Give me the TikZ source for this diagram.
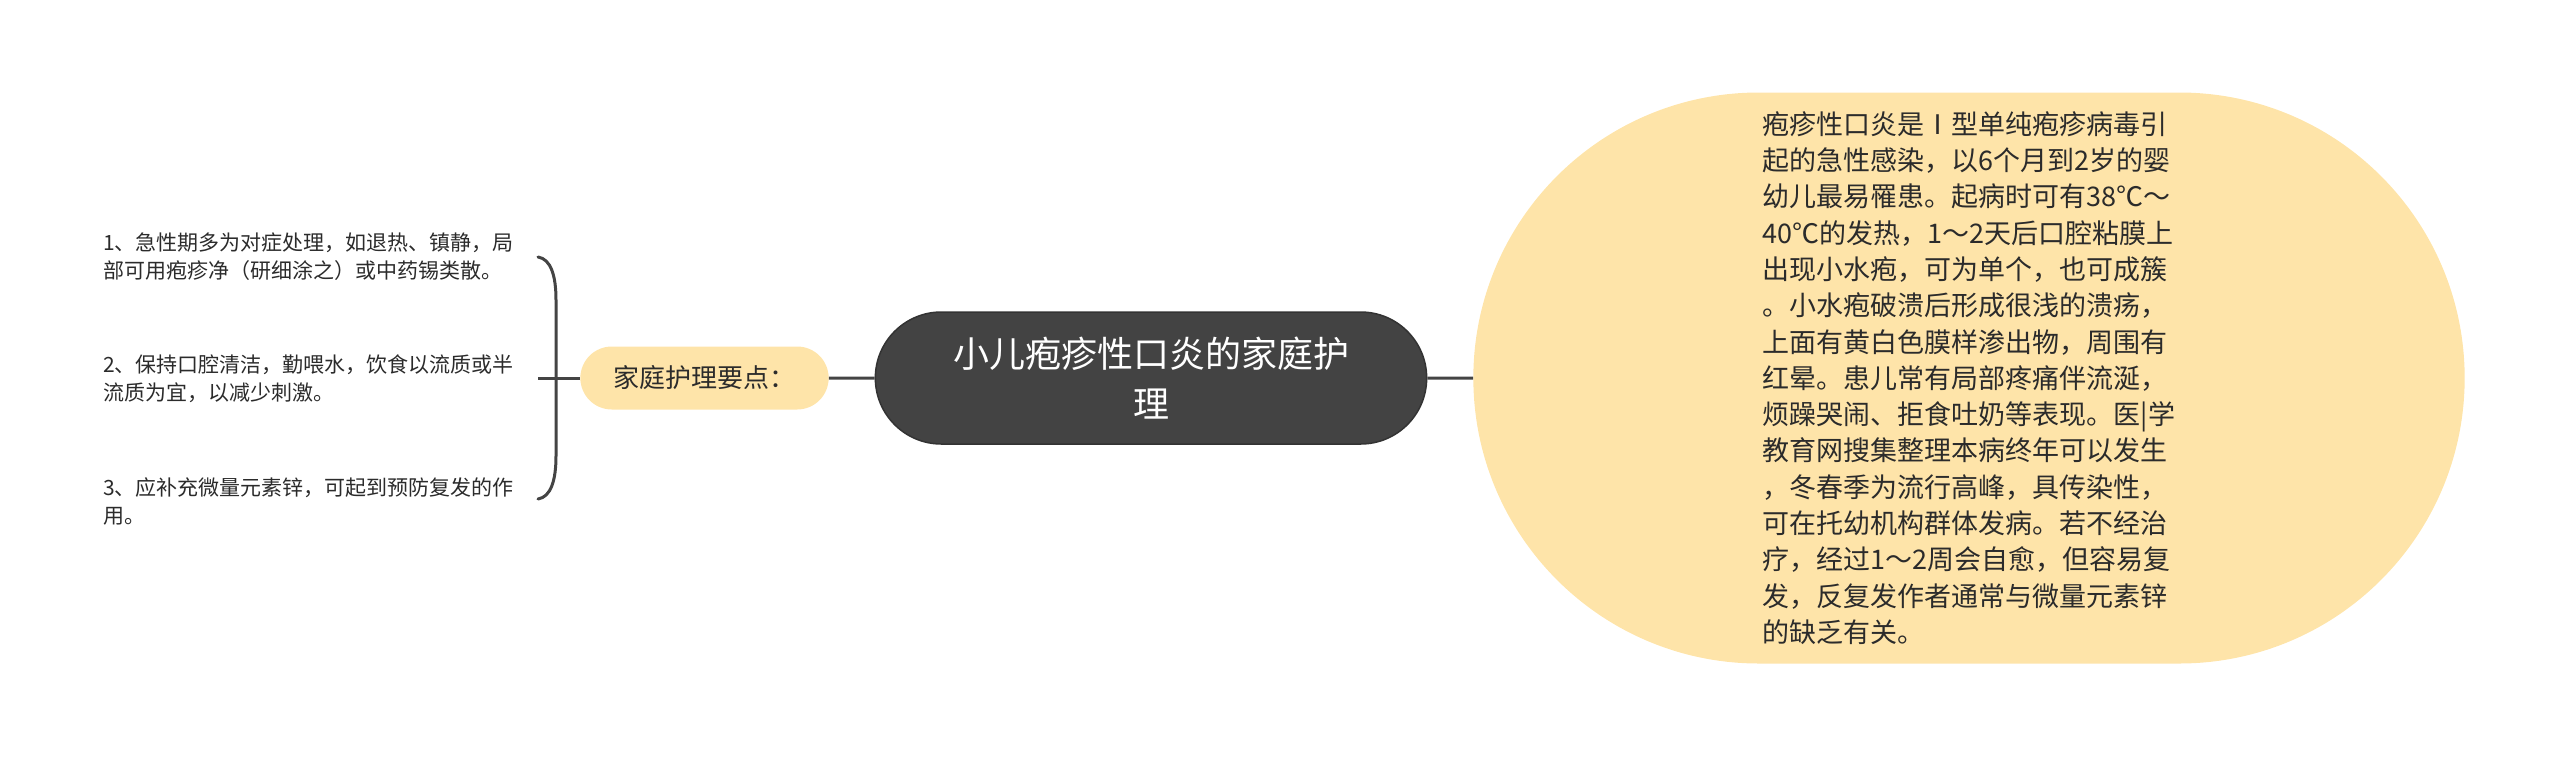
\documentclass[tikz,border=0pt]{standalone}
\usepackage{fontspec}
\setmainfont{Noto Sans CJK SC}
\usetikzlibrary{shapes.misc}

\definecolor{topicdark}{HTML}{434343}
\definecolor{topicedge}{HTML}{333333}
\definecolor{topicyellow}{HTML}{FEE4A9}
\definecolor{linkgray}{HTML}{444444}
\definecolor{textgray}{HTML}{2B2B2B}

\tikzset{
  link/.style={draw=linkgray, line width=3pt},
  roottopic/.style={rounded rectangle, fill=topicdark, draw=topicedge, line width=1.5pt,
    text=white, align=center, font=\fontsize{36pt}{50pt}\selectfont},
  subtopic/.style={rounded rectangle, fill=topicyellow, text=textgray, align=left},
  itemtext/.style={anchor=west, inner sep=0pt, align=left, text=textgray,
    font=\fontsize{21pt}{28pt}\selectfont}
}

\begin{document}
\begin{tikzpicture}[x=1pt, y=-1pt]
    \useasboundingbox (0,0) rectangle (2560,756);
    % Nodes
    \node[roottopic, minimum width=558pt, minimum height=132pt] (root) at (1151,378) {小儿疱疹性口炎的家庭护\\理};
    \node[subtopic, minimum width=255pt, minimum height=63pt, font=\fontsize{26pt}{34pt}\selectfont] (care) at (704.5,378) {家庭护理要点：};
    \node[subtopic, minimum width=998pt, minimum height=571pt, font=\fontsize{27pt}{36.3pt}\selectfont] (intro) at (1969,378) {%
疱疹性口炎是Ⅰ型单纯疱疹病毒引\\
起的急性感染，以6个月到2岁的婴\\
幼儿最易罹患。起病时可有38℃～\\
40℃的发热，1～2天后口腔粘膜上\\
出现小水疱，可为单个，也可成簇\\
。小水疱破溃后形成很浅的溃疡，\\
上面有黄白色膜样渗出物，周围有\\
红晕。患儿常有局部疼痛伴流涎，\\
烦躁哭闹、拒食吐奶等表现。医|学\\
教育网搜集整理本病终年可以发生\\
，冬春季为流行高峰，具传染性，\\
可在托幼机构群体发病。若不经治\\
疗，经过1～2周会自愈，但容易复\\
发，反复发作者通常与微量元素锌\\
的缺乏有关。};

    \node[itemtext] (i1) at (103,257) {1、急性期多为对症处理，如退热、镇静，局\\部可用疱疹净（研细涂之）或中药锡类散。};
    \node[itemtext] (i2) at (103,379) {2、保持口腔清洁，勤喂水，饮食以流质或半\\流质为宜，以减少刺激。};
    \node[itemtext] (i3) at (103,501) {3、应补充微量元素锌，可起到预防复发的作\\用。};

    \coordinate (b1) at (538,257);
    \coordinate (b2) at (538,378);
    \coordinate (b3) at (538,499);

    % Edges
    \draw[link] (care) -- (root);
    \draw[link] (root) -- (intro);
    \draw[link] (b2) -- (care);
    \draw[link, line cap=round] (b1) .. controls (551,259) and (556,276) .. (556,300) -- (556,456) .. controls (556,480) and (551,497) .. (b3);
\end{tikzpicture}
\end{document}
